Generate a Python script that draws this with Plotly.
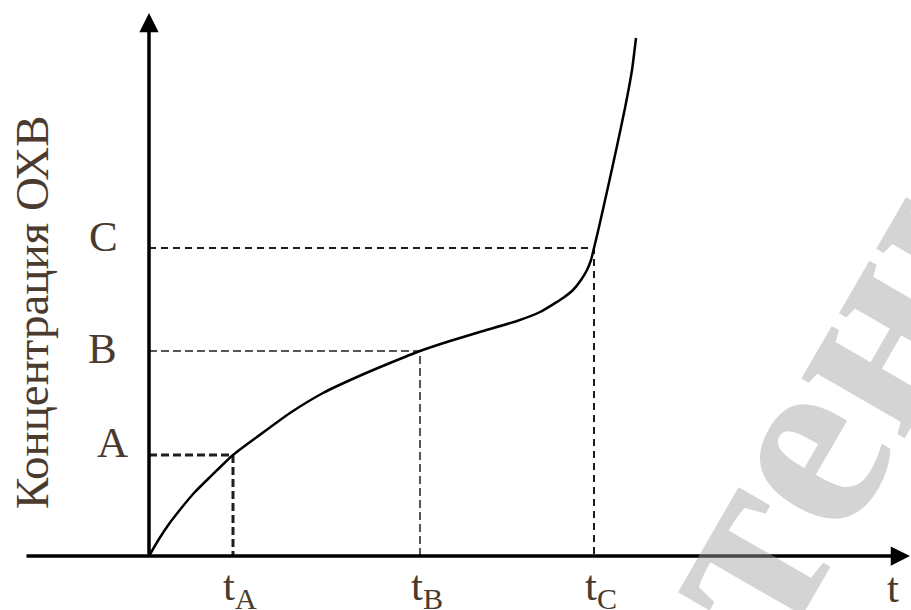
import plotly.graph_objects as go

# ---- data (units: arbitrary) ----
curve_t = [0.00, 0.10, 0.20, 0.30, 0.45, 0.60, 0.84, 1.08, 1.41, 1.74, 2.08, 2.41, 2.71,
           3.01, 3.34, 3.68, 3.91, 4.14, 4.24, 4.32, 4.38, 4.42, 4.45, 4.50, 4.59,
           4.68, 4.76, 4.83, 4.87]
curve_c = [0.00, 0.17, 0.32, 0.45, 0.63, 0.78, 1.01, 1.19, 1.43, 1.63, 1.79, 1.93, 2.05,
           2.15, 2.25, 2.35, 2.44, 2.58, 2.66, 2.76, 2.86, 2.96, 3.08, 3.29, 3.69,
           4.10, 4.48, 4.86, 5.18]
point_names = ["A", "B", "C"]
point_t = [0.84, 2.71, 4.45]
point_c = [1.01, 2.05, 3.08]
time_labels = ["t<sub>A</sub>", "t<sub>B</sub>", "t<sub>C</sub>"]
y_title = "Концентрация ОХВ"
x_title = "t"
watermark = "тени"

TXT = "#4a3b2e"
FONT = "Liberation Serif, Times New Roman, serif"

fig = go.Figure()

# dashed guide lines
dash_styles = [
    dict(width=3.0, dash="8px,4px"),
    dict(width=1.5, dash="8px,4px"),
    dict(width=2.0, dash="7px,5px"),
]
for t, c, st in zip(point_t, point_c, dash_styles):
    fig.add_trace(go.Scatter(x=[0, t, t], y=[c, c, 0], mode="lines",
                             line=dict(color="#1e1e1e", width=st["width"], dash=st["dash"]),
                             hoverinfo="skip", showlegend=False))

# main curve
fig.add_trace(go.Scatter(x=curve_t, y=curve_c, mode="lines",
                         line=dict(color="black", width=2.5, shape="spline", smoothing=0.5),
                         showlegend=False))

ann = []
# axes with arrows
ann.append(dict(x=0, y=5.43, ax=0, ay=0, xref="x", yref="y", axref="x", ayref="y",
                showarrow=True, arrowhead=2, arrowsize=1.1, arrowwidth=3.5,
                arrowcolor="black", text="", standoff=0, startstandoff=0))
ann.append(dict(x=7.61, y=0, ax=-1.24, ay=0, xref="x", yref="y", axref="x", ayref="y",
                showarrow=True, arrowhead=2, arrowsize=1.1, arrowwidth=3.5,
                arrowcolor="black", text="", standoff=0, startstandoff=0))

# point labels on the concentration axis
label_offsets = [(-0.37, 0.13), (-0.47, 0.03), (-0.46, 0.12)]
for name, c, (dx, dy) in zip(point_names, point_c, label_offsets):
    ann.append(dict(x=dx, y=c + dy, xref="x", yref="y", text=name, showarrow=False,
                    font=dict(family=FONT, size=43, color=TXT)))

# time labels
for lab, t in zip(time_labels, point_t):
    ann.append(dict(x=t + 0.07, y=-0.33, xref="x", yref="y", text=lab, showarrow=False,
                    font=dict(family=FONT, size=43, color=TXT)))
ann.append(dict(x=7.44, y=-0.31, xref="x", yref="y", text=x_title, showarrow=False,
                font=dict(family=FONT, size=43, color=TXT)))

# y title
ann.append(dict(x=-1.17, y=2.44, xref="x", yref="y", text=y_title, showarrow=False,
                textangle=-90, font=dict(family=FONT, size=47, color=TXT)))

# watermark
ann.append(dict(x=6.90, y=1.80, xref="x", yref="y", text=watermark, showarrow=False,
                textangle=-60,
                font=dict(family="Liberation Serif, serif", size=260, color="rgba(160,160,160,0.45)",
                          weight="bold")))

fig.update_layout(
    width=911, height=610,
    margin=dict(l=0, r=0, t=0, b=0),
    paper_bgcolor="white", plot_bgcolor="white",
    xaxis=dict(range=[-1.49, 7.62], visible=False, fixedrange=True),
    yaxis=dict(range=[-0.54, 5.56], visible=False, fixedrange=True),
    annotations=ann,
    showlegend=False,
)

fig.write_html("out.html", config={"displayModeBar": False},
               post_script="document.body.style.margin='0px';")
